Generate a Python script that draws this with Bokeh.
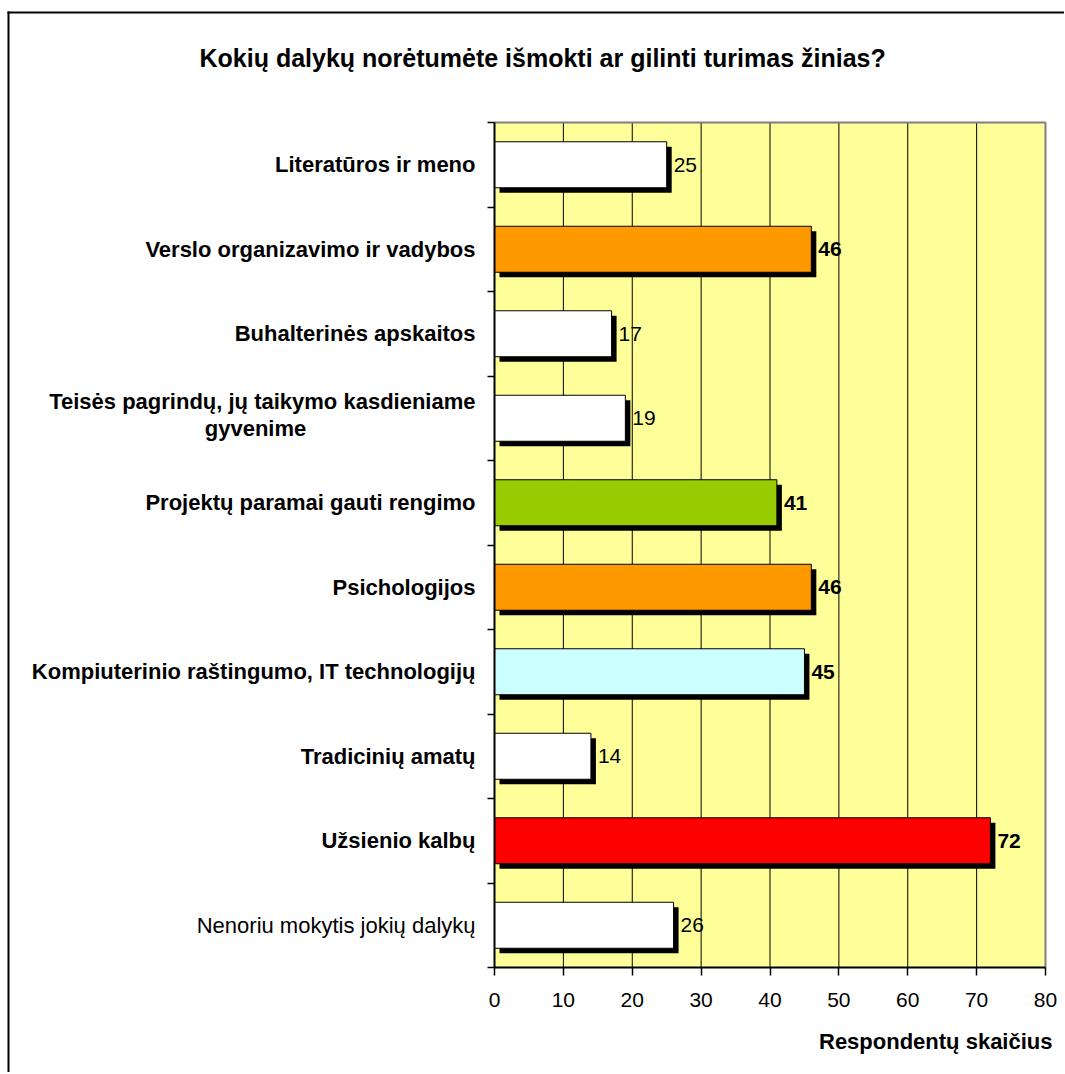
from bokeh.plotting import figure
from bokeh.models import Range1d, FixedTicker, ColumnDataSource
from bokeh.core.properties import value, field
from bokeh.embed import file_html
from bokeh.resources import INLINE

categories = [
    "Literatūros ir meno",
    "Verslo organizavimo ir vadybos",
    "Buhalterinės apskaitos",
    "Teisės pagrindų, jų taikymo kasdieniame\ngyvenime",
    "Projektų paramai gauti rengimo",
    "Psichologijos",
    "Kompiuterinio raštingumo, IT technologijų",
    "Tradicinių amatų",
    "Užsienio kalbų",
    "Nenoriu mokytis jokių dalykų",
]
counts = [25, 46, 17, 19, 41, 46, 45, 14, 72, 26]
bar_colors = ["#FFFFFF", "#FF9900", "#FFFFFF", "#FFFFFF", "#99CC00",
              "#FF9900", "#CCFFFF", "#FFFFFF", "#FF0000", "#FFFFFF"]
highlight = [False, True, False, False, True, True, True, False, True, False]
label_bold = [True, True, True, True, True, True, True, True, True, False]
x_ticks = [0, 10, 20, 30, 40, 50, 60, 70, 80]
title_text = "Kokių dalykų norėtumėte išmokti ar gilinti turimas žinias?"
x_title = "Respondentų skaičius"

FONT = "Liberation Sans"
W, H = 1064, 1072
PL, PT, PW, PH = 494, 122, 551, 845      # plot area in canvas px
XMIN, XMAX = x_ticks[0], x_ticks[-1]
XS = PW / (XMAX - XMIN)
NB = len(categories)
BAND = PH / NB

def X(px):   # canvas px -> data x
    return XMIN + (px - PL) / XS

def Y(py):   # canvas px -> data y (0 at top of plot area, NB at bottom)
    return (py - PT) / BAND

# the frame covers the whole canvas so every element is drawn inside it
p = figure(width=W, height=H, output_backend="svg", toolbar_location=None,
           title=None,
           x_range=Range1d(X(0), X(W)), y_range=Range1d(Y(H), Y(0)),
           min_border_left=0, min_border_right=0,
           min_border_top=0, min_border_bottom=0)
p.background_fill_color = "white"
p.border_fill_color = "white"
p.outline_line_color = None
p.grid.visible = False

# outer chart border (left and top edges; right/bottom fall outside)
p.segment(x0=[X(8), X(7)], y0=[Y(11), Y(12)], x1=[X(8), X(W)], y1=[Y(H), Y(12)],
          line_color="black", line_width=2)

# title
p.text(x=[X(199)], y=[Y(57)], text=[title_text], text_align="left",
       text_baseline="middle", text_font=value(FONT), text_font_size="25px",
       text_font_style="bold", text_color="black")

# plot area background
p.quad(left=[XMIN], right=[XMAX], top=[0], bottom=[NB],
       fill_color="#FFFF99", line_color=None)

# vertical grid lines at the inner x ticks
inner = x_ticks[1:-1]
p.segment(x0=inner, x1=inner, y0=[0] * len(inner), y1=[NB] * len(inner),
          line_color="black", line_width=1)

# plot-area outline (top and right, grey)
p.segment(x0=[XMIN, XMAX], y0=[0, 0], x1=[XMAX, XMAX], y1=[0, NB],
          line_color="#808080", line_width=2)

# x axis along the bottom of the plot area
p.xaxis.fixed_location = NB
p.xaxis.ticker = FixedTicker(ticks=x_ticks)
p.xaxis.bounds = (XMIN, XMAX)
p.xaxis.axis_line_color = "black"
p.xaxis.axis_line_width = 2
p.xaxis.major_tick_out = 8
p.xaxis.major_tick_in = 0
p.xaxis.minor_tick_line_color = None
p.xaxis.major_tick_line_width = 1.5
p.xaxis.major_label_text_font = FONT
p.xaxis.major_label_text_font_size = "21px"
p.xaxis.major_label_text_color = "black"
p.xaxis.major_label_standoff = 17

# x axis title
p.text(x=[XMAX], y=[NB], x_offset=7, y_offset=Y(1041) * BAND - PH, text=[x_title],
       text_align="right", text_baseline="middle", text_font=value(FONT),
       text_font_size="22px", text_font_style="bold", text_color="black")

# y axis at x = 0 with ticks at category boundaries
p.yaxis.fixed_location = XMIN
p.yaxis.bounds = (0, NB)
p.yaxis.ticker = FixedTicker(ticks=[], minor_ticks=list(range(NB + 1)))
p.yaxis.axis_line_color = "black"
p.yaxis.axis_line_width = 2
p.yaxis.major_tick_line_color = None
p.yaxis.minor_tick_out = 7
p.yaxis.minor_tick_in = 0
p.yaxis.minor_tick_line_color = "black"
p.yaxis.minor_tick_line_width = 1.5

# category labels
centers = [i + 0.5 for i in range(NB)]
lab = dict(x=[], y=[], t=[], xo=[], yo=[], al=[], fs=[])
for c, cat, b in zip(centers, categories, label_bold):
    lines = cat.split("\n")
    fs = "bold" if b else "normal"
    if len(lines) == 1:
        rows = [(cat, -19, 0, "right")]
    else:
        rows = [(lines[0], -19, -17, "right"), (lines[1], -239, 10, "center")]
    for t, xo, yo, al in rows:
        lab["x"].append(XMIN); lab["y"].append(c); lab["t"].append(t)
        lab["xo"].append(xo); lab["yo"].append(yo); lab["al"].append(al); lab["fs"].append(fs)
p.text(x="x", y="y", text="t", x_offset="xo", y_offset="yo", text_align="al",
       text_font_style=field("fs"), source=ColumnDataSource(lab),
       text_baseline="middle", text_font=value(FONT), text_font_size="22px",
       text_color="black")

# bars with shadows
bar_h = 46 / BAND
sh_x = 5 / XS
sh_y = 5 / BAND
src = ColumnDataSource(dict(
    y=centers, v=counts, c=bar_colors,
    ys=[c + sh_y for c in centers],
    ls=[XMIN + sh_x] * NB,
    rs=[v + sh_x for v in counts],
    t=[str(v) for v in counts],
    fs=["bold" if h else "normal" for h in highlight],
))
p.hbar(y="ys", left="ls", right="rs", height=bar_h, source=src,
       fill_color="black", line_color=None)
p.hbar(y="y", left=XMIN, right="v", height=bar_h, source=src,
       fill_color="c", line_color="black", line_width=1)
p.text(x="v", y="y", text="t", source=src, x_offset=7,
       text_align="left", text_baseline="middle",
       text_font=value(FONT), text_font_size="21px",
       text_font_style=field("fs"), text_color="black")

open("out.html", "w").write(file_html(p, INLINE))
